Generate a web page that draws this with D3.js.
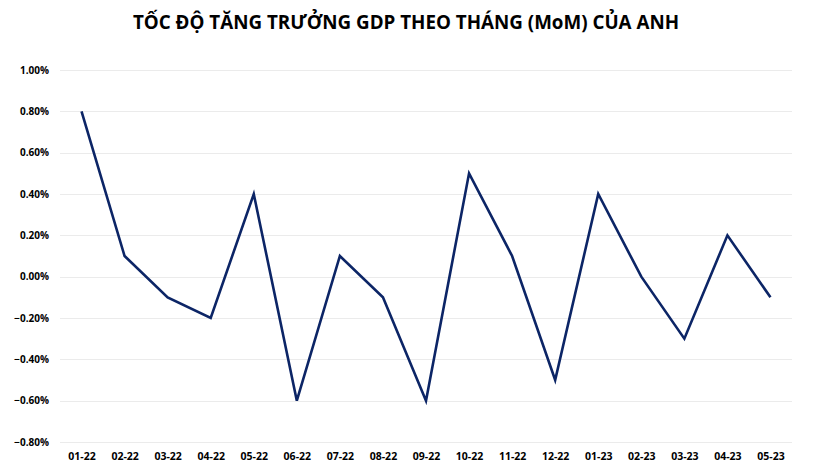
<html>
<head>
<meta charset="utf-8">
<script src="https://cdn.jsdelivr.net/npm/d3@7"></script>
<style>
  body { margin: 0; background: #fff; }
  text { font-family: "Open Sans", sans-serif; }
</style>
</head>
<body>
<script>
var width = 824, height = 476;

var months = ["01-22","02-22","03-22","04-22","05-22","06-22","07-22","08-22","09-22",
              "10-22","11-22","12-22","01-23","02-23","03-23","04-23","05-23"];
var growth = [0.8, 0.1, -0.1, -0.2, 0.4, -0.6, 0.1, -0.1, -0.6,
              0.5, 0.1, -0.5, 0.4, 0.0, -0.3, 0.2, -0.1];
var yTicks = [-0.8, -0.6, -0.4, -0.2, 0, 0.2, 0.4, 0.6, 0.8, 1.0];

var svg = d3.select("body").append("svg")
    .attr("width", width)
    .attr("height", height);

svg.append("text")
    .attr("x", 406)
    .attr("y", 29)
    .attr("text-anchor", "middle")
    .attr("font-size", 18.8)
    .attr("font-weight", 700)
    .attr("fill", "#000")
    .text("TỐC ĐỘ TĂNG TRƯỞNG GDP THEO THÁNG (MoM) CỦA ANH");

var x = d3.scalePoint()
    .domain(months)
    .range([60, 792])
    .padding(0.5);

var y = d3.scaleLinear()
    .domain([-0.8, 1.0])
    .range([442, 70]);

// gridlines
svg.append("g")
    .selectAll("line")
    .data(yTicks)
    .enter().append("line")
    .attr("x1", 60)
    .attr("x2", 792)
    .attr("y1", function(d){ return Math.round(y(d)) + 0.5; })
    .attr("y2", function(d){ return Math.round(y(d)) + 0.5; })
    .attr("stroke", "#ebebeb")
    .attr("stroke-width", 1);

var yAxis = svg.append("g")
    .attr("transform", "translate(49,0)")
    .call(d3.axisLeft(y).tickValues(yTicks).tickSize(0).tickPadding(0)
        .tickFormat(function(d){ return d3.format(".2f")(d) + "%"; }));
yAxis.select(".domain").remove();
yAxis.selectAll("text")
    .attr("font-size", 10)
    .attr("font-weight", 700)
    .attr("fill", "#000")
    .attr("font-family", "'Open Sans', sans-serif");

var xAxis = svg.append("g")
    .attr("transform", "translate(0,453)")
    .call(d3.axisBottom(x).tickSize(0).tickPadding(0));
xAxis.select(".domain").remove();
xAxis.selectAll("text")
    .attr("font-size", 10.5)
    .attr("font-weight", 700)
    .attr("fill", "#000")
    .attr("font-family", "'Open Sans', sans-serif");

var line = d3.line()
    .x(function(d, i){ return x(months[i]); })
    .y(function(d){ return y(d); });

svg.append("path")
    .datum(growth)
    .attr("d", line)
    .attr("fill", "none")
    .attr("stroke", "#0c2566")
    .attr("stroke-width", 2.6)
    .attr("stroke-linejoin", "miter");
</script>
</body>
</html>
